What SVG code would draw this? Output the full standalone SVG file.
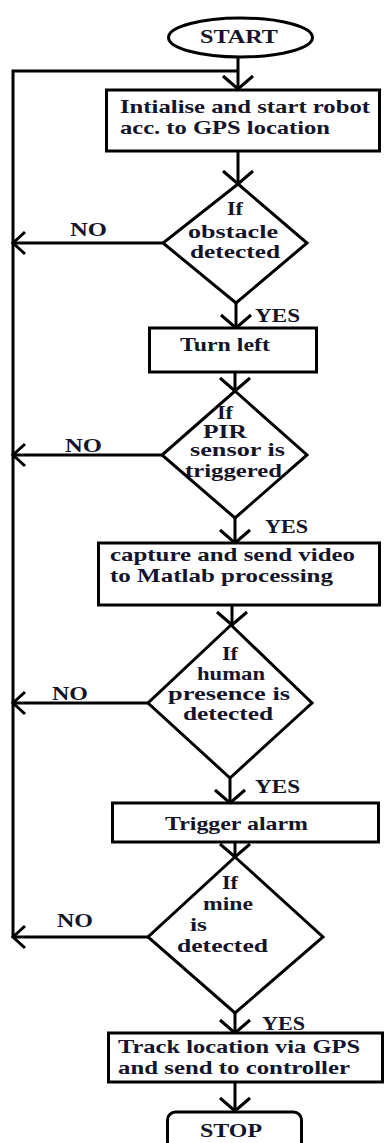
<svg xmlns="http://www.w3.org/2000/svg" width="385" height="1143" viewBox="0 0 385 1143">
<style>
.shape{fill:#fff;stroke:#000;stroke-width:3}
.ln{fill:none;stroke:#000;stroke-width:3}
text{font-family:"Liberation Serif","Times New Roman",serif;font-weight:bold;font-size:19px;fill:#14142a}
.d{font-size:18px}
</style>
<defs>
<marker id="arrV" markerUnits="userSpaceOnUse" viewBox="-17 -18 20 36" markerWidth="20" markerHeight="36" refX="0" refY="0" orient="auto">
<path d="M-13,-15 L0,0 L-13,15" fill="none" stroke="#000" stroke-width="3"/>
</marker>
<marker id="arrH" markerUnits="userSpaceOnUse" viewBox="-15 -14 18 28" markerWidth="18" markerHeight="28" refX="0" refY="0" orient="auto">
<path d="M-12,-11 L0,0 L-12,11" fill="none" stroke="#000" stroke-width="3"/>
</marker>
</defs>
<rect width="385" height="1143" fill="#fff"/>
<g id="connectors">
<path class="ln" d="M238,57 V89" marker-end="url(#arrV)"/>
<path class="ln" d="M13,938 V71 H238"/>
<path class="ln" d="M238,151 V184" marker-end="url(#arrV)"/>
<path class="ln" d="M163,243 H13" marker-end="url(#arrH)"/>
<path class="ln" d="M236,303 V328" marker-end="url(#arrV)"/>
<path class="ln" d="M235,372 V391" marker-end="url(#arrV)"/>
<path class="ln" d="M162,455 H13" marker-end="url(#arrH)"/>
<path class="ln" d="M235,518 V543" marker-end="url(#arrV)"/>
<path class="ln" d="M232,605 V625" marker-end="url(#arrV)"/>
<path class="ln" d="M148,703 H13" marker-end="url(#arrH)"/>
<path class="ln" d="M230,778 V803" marker-end="url(#arrV)"/>
<path class="ln" d="M235,842 V857" marker-end="url(#arrV)"/>
<path class="ln" d="M148,937 H13" marker-end="url(#arrH)"/>
<path class="ln" d="M235,1013 V1033" marker-end="url(#arrV)"/>
<path class="ln" d="M235,1082 V1111" marker-end="url(#arrV)"/>
<text x="70" y="236" textLength="37" lengthAdjust="spacingAndGlyphs">NO</text>
<text x="255" y="322" textLength="45" lengthAdjust="spacingAndGlyphs">YES</text>
<text x="65" y="452" textLength="37" lengthAdjust="spacingAndGlyphs">NO</text>
<text x="265" y="533" textLength="43" lengthAdjust="spacingAndGlyphs">YES</text>
<text x="52" y="700" textLength="36" lengthAdjust="spacingAndGlyphs">NO</text>
<text x="255" y="793" textLength="45" lengthAdjust="spacingAndGlyphs">YES</text>
<text x="57" y="927" textLength="36" lengthAdjust="spacingAndGlyphs">NO</text>
<text x="262" y="1030" textLength="43" lengthAdjust="spacingAndGlyphs">YES</text>
</g>
<g id="start">
<ellipse class="shape" cx="240.5" cy="37.5" rx="72" ry="19.5"/>
<text x="200" y="43" textLength="78" lengthAdjust="spacingAndGlyphs">START</text>
</g>
<g id="init">
<rect class="shape" x="106.5" y="90" width="273" height="61"/>
<text x="120" y="113" textLength="250" lengthAdjust="spacingAndGlyphs">Intialise and start robot</text>
<text x="120" y="134" textLength="210" lengthAdjust="spacingAndGlyphs">acc. to GPS location</text>
</g>
<g id="obstacle">
<polygon class="shape" points="238,184 307,243 236,303 163,243"/>
<text class="d" x="227" y="215" textLength="16" lengthAdjust="spacingAndGlyphs">If</text>
<text class="d" x="188" y="238" textLength="90" lengthAdjust="spacingAndGlyphs">obstacle</text>
<text class="d" x="190" y="258" textLength="90" lengthAdjust="spacingAndGlyphs">detected</text>
</g>
<g id="turnleft">
<rect class="shape" x="149.5" y="328" width="167" height="44"/>
<text x="180" y="351" textLength="90" lengthAdjust="spacingAndGlyphs">Turn left</text>
</g>
<g id="pir">
<polygon class="shape" points="235,391 307,455 235,518 162,455"/>
<text class="d" x="217" y="419" textLength="16" lengthAdjust="spacingAndGlyphs">If</text>
<text class="d" x="203" y="438" textLength="44" lengthAdjust="spacingAndGlyphs">PIR</text>
<text class="d" x="190" y="456" textLength="95" lengthAdjust="spacingAndGlyphs">sensor is</text>
<text class="d" x="185" y="477" textLength="97" lengthAdjust="spacingAndGlyphs">triggered</text>
</g>
<g id="capture">
<rect class="shape" x="98.5" y="543" width="281" height="62"/>
<text x="110" y="561" textLength="245" lengthAdjust="spacingAndGlyphs">capture and send video</text>
<text x="110" y="582" textLength="223" lengthAdjust="spacingAndGlyphs">to Matlab processing</text>
</g>
<g id="human">
<polygon class="shape" points="231,625 312,703 230,778 148,703"/>
<text class="d" x="222" y="660" textLength="16" lengthAdjust="spacingAndGlyphs">If</text>
<text class="d" x="197" y="680" textLength="68" lengthAdjust="spacingAndGlyphs">human</text>
<text class="d" x="168" y="700" textLength="122" lengthAdjust="spacingAndGlyphs">presence is</text>
<text class="d" x="183" y="720" textLength="90" lengthAdjust="spacingAndGlyphs">detected</text>
</g>
<g id="alarm">
<rect class="shape" x="112.5" y="803" width="266" height="39"/>
<text x="165" y="830" textLength="143" lengthAdjust="spacingAndGlyphs">Trigger alarm</text>
</g>
<g id="mine">
<polygon class="shape" points="235,857 323,937 235,1013 148,937"/>
<text class="d" x="222" y="889" textLength="16" lengthAdjust="spacingAndGlyphs">If</text>
<text class="d" x="203" y="910" textLength="50" lengthAdjust="spacingAndGlyphs">mine</text>
<text class="d" x="190" y="931" textLength="17" lengthAdjust="spacingAndGlyphs">is</text>
<text class="d" x="177" y="952" textLength="91" lengthAdjust="spacingAndGlyphs">detected</text>
</g>
<g id="track">
<rect class="shape" x="108.5" y="1033" width="274" height="49"/>
<text x="118" y="1053" textLength="242" lengthAdjust="spacingAndGlyphs">Track location via GPS</text>
<text x="118" y="1074" textLength="232" lengthAdjust="spacingAndGlyphs">and send to controller</text>
</g>
<g id="stop">
<rect class="shape" x="167.5" y="1112" width="134" height="45" rx="8"/>
<text x="200" y="1137" textLength="62" lengthAdjust="spacingAndGlyphs">STOP</text>
</g>
</svg>
